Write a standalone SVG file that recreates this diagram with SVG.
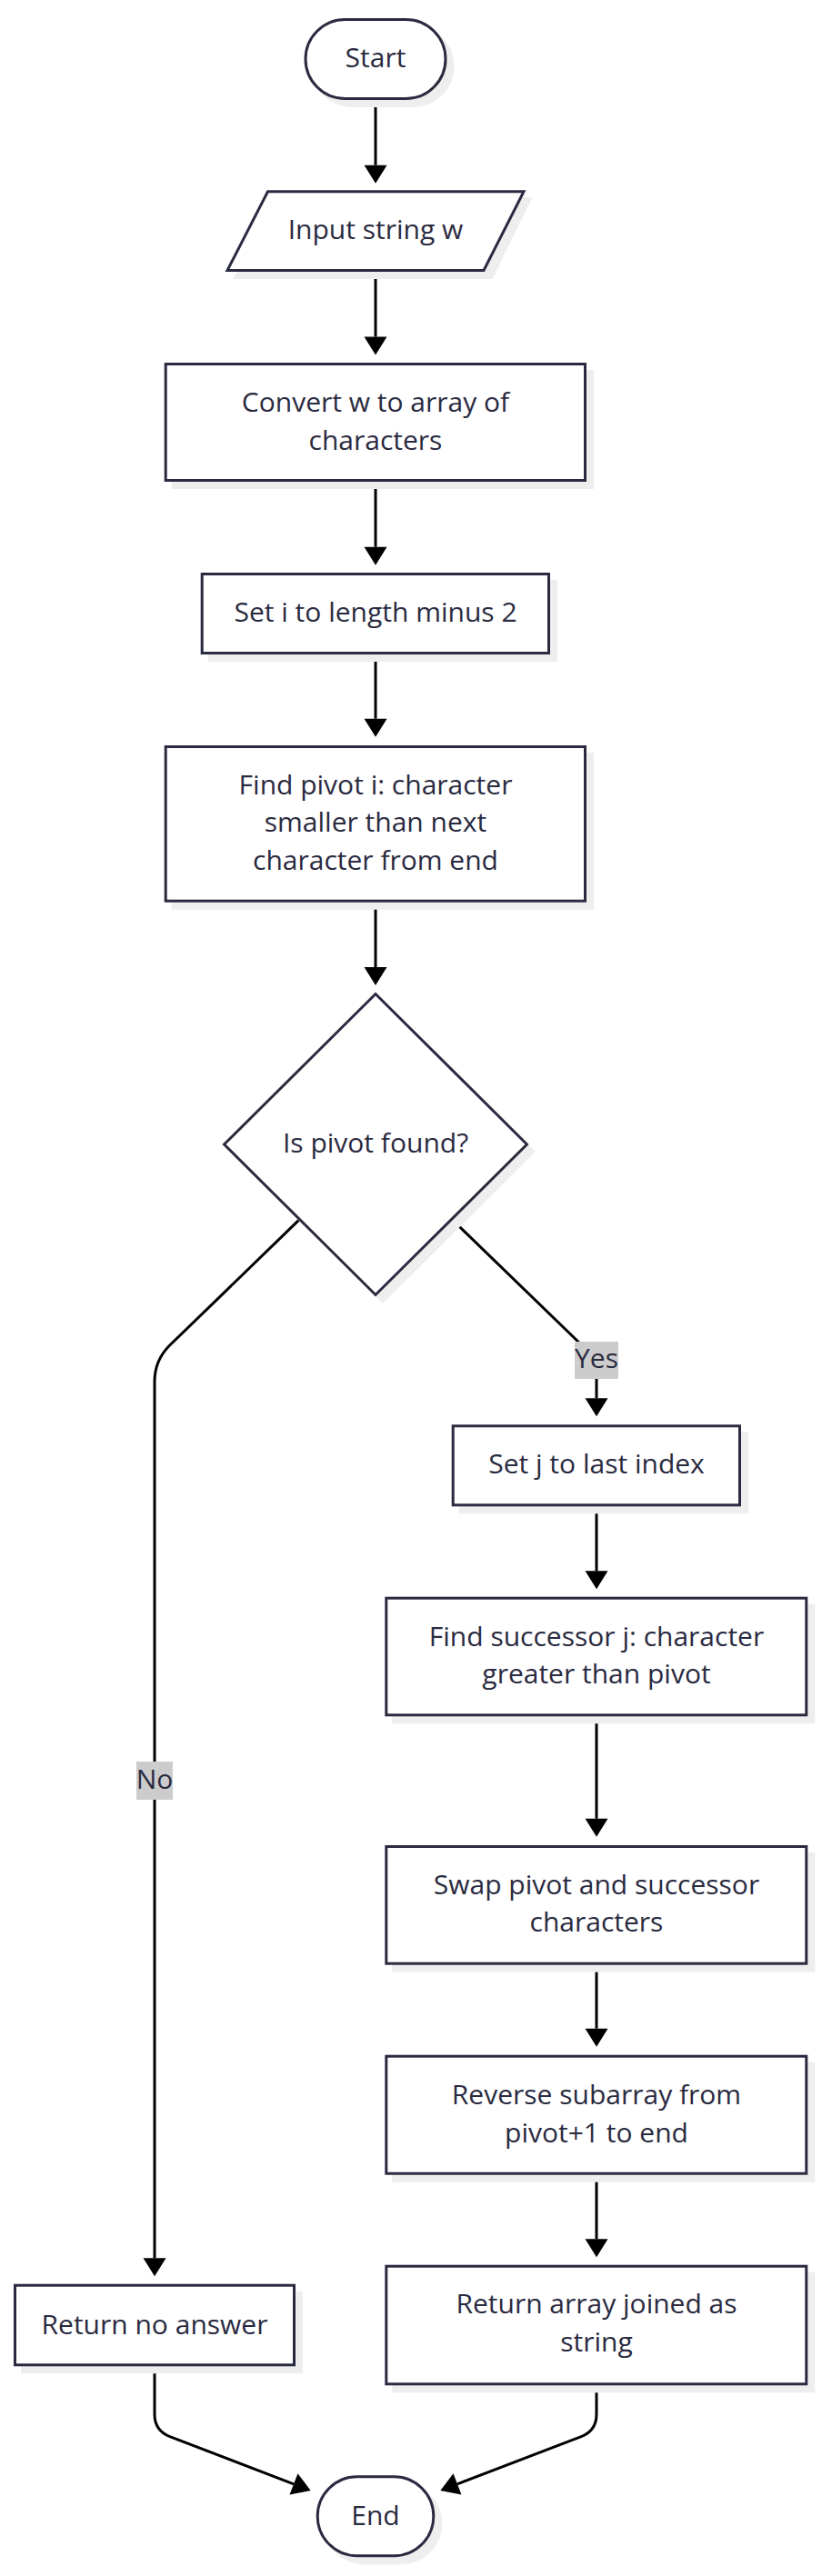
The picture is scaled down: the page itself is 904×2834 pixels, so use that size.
<svg xmlns="http://www.w3.org/2000/svg" width="904" height="2834" viewBox="0 0 904 2834">
<defs>
<style>
.shape{fill:#ffffff;stroke:#2a2a40;stroke-width:3;}
.shadow{fill:#eeeeee;}
.t{font-family:"Open Sans","Noto Sans",sans-serif;font-size:30px;fill:#2a2a40;text-anchor:middle;}
.edge{fill:none;stroke:#000000;stroke-width:3;}
.lblbg{fill:#cccccc;}
</style>
<marker id="arrow" markerUnits="userSpaceOnUse" markerWidth="20" markerHeight="25" viewBox="0 0 20 25" refX="0" refY="12.5" orient="auto" overflow="visible">
<path d="M0,0 L20,12.5 L0,25 z" fill="#000000"/>
</marker>
</defs>
<rect width="904" height="2834" fill="#ffffff"/>
<g id="connectors">
<path class="edge" d="M413,110 L413,181.7" marker-end="url(#arrow)"/>
<path class="edge" d="M413,299 L413,370.5" marker-end="url(#arrow)"/>
<path class="edge" d="M413,530 L413,601.7" marker-end="url(#arrow)"/>
<path class="edge" d="M413,720 L413,790.7" marker-end="url(#arrow)"/>
<path class="edge" d="M413,993 L413,1064" marker-end="url(#arrow)"/>
<path class="edge" d="M498.3,1342.7 L641,1481 Q656,1495.5 656,1512 L656,1538.3" marker-end="url(#arrow)"/>
<path class="edge" d="M328.3,1342.7 L186.7,1480 Q170,1496.5 170,1520 L170,2484.3" marker-end="url(#arrow)"/>
<path class="edge" d="M656,1657.5 L656,1728.3" marker-end="url(#arrow)"/>
<path class="edge" d="M656,1888.3 L656,2000.7" marker-end="url(#arrow)"/>
<path class="edge" d="M656,2161.7 L656,2231.7" marker-end="url(#arrow)"/>
<path class="edge" d="M656,2392.7 L656,2463.3" marker-end="url(#arrow)"/>
<path class="edge" d="M170,2603.3 L170,2656 Q170,2674.2 186.8,2680.6 L323,2732.9" marker-end="url(#arrow)"/>
<path class="edge" d="M656,2624.3 L656,2656 Q656,2674.2 639.2,2680.6 L503,2732.9" marker-end="url(#arrow)"/>
<g id="label-yes">
<rect class="lblbg" x="632" y="1476" width="48" height="41"/>
<text class="t" x="656" y="1505">Yes</text>
</g>
<g id="label-no">
<rect class="lblbg" x="150" y="1938" width="40" height="42"/>
<text class="t" x="170" y="1968">No</text>
</g>
</g>
<g id="start">
<rect class="shadow" x="342.5" y="28" width="157" height="90" rx="45"/>
<rect class="shape" x="336" y="21.5" width="154" height="87" rx="43.5"/>
<text class="t" x="413" y="74">Start</text>
</g>
<g id="input">
<polygon class="shadow" points="301,217.3 585.5,217.3 541.5,307 256.5,307"/>
<polygon class="shape" points="294.5,210.8 576,210.8 532,297.5 250,297.5"/>
<text class="t" x="413" y="263.3">Input string w</text>
</g>
<g id="convert">
<rect class="shadow" x="188.7" y="407" width="464.3" height="131"/>
<rect class="shape" x="182.2" y="400.5" width="461.3" height="128"/>
<text class="t" x="413" y="453">Convert w to array of</text>
<text class="t" x="413" y="495">characters</text>
</g>
<g id="set-i">
<rect class="shadow" x="228.7" y="638" width="384.3" height="90"/>
<rect class="shape" x="222.2" y="631.5" width="381.3" height="87"/>
<text class="t" x="413" y="683.5">Set i to length minus 2</text>
</g>
<g id="find-pivot">
<rect class="shadow" x="188.7" y="828" width="464.3" height="172.7"/>
<rect class="shape" x="182.2" y="821.5" width="461.3" height="169.7"/>
<text class="t" x="413" y="873.5">Find pivot i: character</text>
<text class="t" x="413" y="915">smaller than next</text>
<text class="t" x="413" y="956.5">character from end</text>
</g>
<g id="pivot-found">
<polygon class="shadow" points="421,1100 589,1267 421,1434 253,1267"/>
<polygon class="shape" points="413,1093.5 579.5,1259 413,1424.5 246.5,1259"/>
<text class="t" x="413" y="1268">Is pivot found?</text>
</g>
<g id="set-j">
<rect class="shadow" x="504.7" y="1575.3" width="318.3" height="90"/>
<rect class="shape" x="498.2" y="1568.8" width="315.3" height="87"/>
<text class="t" x="656" y="1620.5">Set j to last index</text>
</g>
<g id="find-successor">
<rect class="shadow" x="431.3" y="1764.7" width="465" height="131.6"/>
<rect class="shape" x="424.8" y="1758.2" width="462" height="128.6"/>
<text class="t" x="656" y="1810.5">Find successor j: character</text>
<text class="t" x="656" y="1852">greater than pivot</text>
</g>
<g id="swap">
<rect class="shadow" x="431.3" y="2038" width="465" height="131.7"/>
<rect class="shape" x="424.8" y="2031.5" width="462" height="128.7"/>
<text class="t" x="656" y="2083.5">Swap pivot and successor</text>
<text class="t" x="656" y="2125">characters</text>
</g>
<g id="reverse">
<rect class="shadow" x="431.3" y="2268.7" width="465" height="132"/>
<rect class="shape" x="424.8" y="2262.2" width="462" height="129"/>
<text class="t" x="656" y="2315">Reverse subarray from</text>
<text class="t" x="656" y="2356.7">pivot+1 to end</text>
</g>
<g id="return-array">
<rect class="shadow" x="431.3" y="2499.7" width="465" height="132.6"/>
<rect class="shape" x="424.8" y="2493.2" width="462" height="129.6"/>
<text class="t" x="656" y="2545">Return array joined as</text>
<text class="t" x="656" y="2586.7">string</text>
</g>
<g id="return-no">
<rect class="shadow" x="23" y="2520.7" width="310" height="90.6"/>
<rect class="shape" x="16.5" y="2514.2" width="307" height="87.6"/>
<text class="t" x="170" y="2567.5">Return no answer</text>
</g>
<g id="end">
<rect class="shadow" x="355.7" y="2731.3" width="130.6" height="90" rx="45"/>
<rect class="shape" x="349.2" y="2724.8" width="127.6" height="87" rx="43.5"/>
<text class="t" x="413" y="2778.3">End</text>
</g>
</svg>
